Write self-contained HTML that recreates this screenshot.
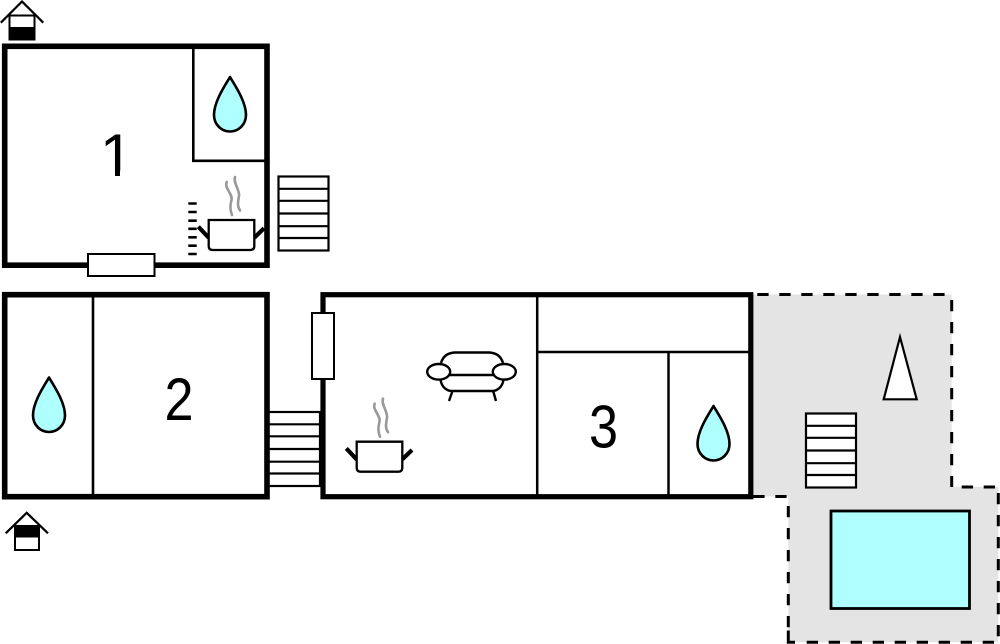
<!DOCTYPE html>
<html>
<head>
<meta charset="utf-8">
<style>
html,body{margin:0;padding:0;background:#fff;width:1000px;height:644px;overflow:hidden}
svg{display:block}
text{font-family:"Liberation Sans",sans-serif;font-size:60px;fill:#000;text-anchor:middle}
</style>
</head>
<body>
<svg width="1000" height="644" viewBox="0 0 1000 644" xmlns="http://www.w3.org/2000/svg">
<defs>
  <path id="drop" d="M0 0 C-4 7 -16 24 -16 38 C-16 48 -8 54.500 0 54.500 C8 54.500 16 48 16 38 C16 24 4 7 0 0 Z" fill="#b0ffff" stroke="#000" stroke-width="2.600" stroke-linejoin="round"/>
  <g id="stairs" fill="#fff" stroke="#000" stroke-width="2.200">
    <rect x="0" y="0" width="50" height="74"/>
    <path d="M0 12.300H50M0 24.300H50M0 37H50M0 49.700H50M0 61.500H50" fill="none"/>
  </g>
  <g id="pot">
    <path d="M226.700 182 C224 188 233 194 231.500 200 C230 206 230 210 232 215 M235 177 C233 183 240 190 239 196 C238 202 237 206 240 210.500" fill="none" stroke="#999" stroke-width="2.600" stroke-linecap="round"/>
    <path d="M198.300 226.700 L208.700 237.700 M254.300 237.700 L264 228.300" fill="none" stroke="#000" stroke-width="4.200"/>
    <path d="M208.700 220 H254.300 V246 Q254.300 250 250.300 250 H212.700 Q208.700 250 208.700 246 Z" fill="#fff" stroke="#000" stroke-width="2.300"/>
  </g>
</defs>

<!-- Terrace -->
<path d="M753 294.500 H951.700 V486.700 H998.300 V642.300 H788.300 V496.500 H753 Z" fill="#e4e4e4"/>
<g fill="none" stroke="#000" stroke-width="3" stroke-dasharray="11.300 10.700">
  <path d="M757.300 294.500 H948"/>
  <path d="M951.700 300 V487"/>
  <path d="M961.700 487 H998"/>
  <path d="M998.300 493 V642"/>
  <path d="M806.700 642.300 H998"/>
  <path d="M788.300 506 V628"/>
  <path d="M753.300 496.500 H787"/>
</g>
<path d="M788.300 630.500 V642.300 H795" fill="none" stroke="#000" stroke-width="3"/>
<rect x="831" y="511" width="138.500" height="97.500" fill="#b0ffff" stroke="#000" stroke-width="2.800"/>
<path d="M900 337 L916.700 399.300 H883.700 Z" fill="#fff" stroke="#000" stroke-width="2.200"/>
<use href="#stairs" x="806" y="413.500"/>

<!-- Stairs between -->
<g fill="#fff" stroke="#000" stroke-width="2.200">
  <rect x="268" y="412" width="52" height="74"/>
  <path d="M268 424.300H320M268 436.300H320M268 449H320M268 461.700H320M268 473.500H320" fill="none"/>
</g>

<!-- Room 1 -->
<rect x="4.700" y="46.300" width="262.300" height="218.900" fill="#fff" stroke="#000" stroke-width="5.600"/>
<path d="M193.300 48 V160.800 H265" fill="none" stroke="#000" stroke-width="2.600"/>
<use href="#drop" x="230" y="77"/>
<text x="116.500" y="176" transform="translate(116.500 0) scale(1 1) translate(-116.500 0)">1</text>
<rect x="100" y="170.800" width="15" height="7" fill="#fff"/>
<rect x="120" y="170.800" width="14" height="7" fill="#fff"/>
<rect x="88" y="254" width="66.500" height="22" fill="#fff" stroke="#000" stroke-width="2"/>
<use href="#stairs" x="278.500" y="176.500"/>
<path d="M188.300 203.500H196.700M188.300 212H196.700M188.300 220.700H196.700M188.300 228.800H196.700M188.300 237.300H196.700M188.300 245.700H196.700M188.300 254H196.700" stroke="#000" stroke-width="2.600" fill="none"/>
<use href="#pot"/>

<!-- Room 2 -->
<rect x="4.700" y="294.700" width="262.300" height="202" fill="#fff" stroke="#000" stroke-width="5.600"/>
<path d="M93 296 V495" fill="none" stroke="#000" stroke-width="2.600"/>
<use href="#drop" x="49" y="377.500"/>
<text transform="translate(179 420) scale(0.87 1)" x="0" y="0">2</text>

<!-- Room 3 -->
<rect x="323" y="294.700" width="427.800" height="202" fill="#fff" stroke="#000" stroke-width="5.200"/>
<path d="M537.200 296 V495 M538 352 H749 M668.500 352 V495" fill="none" stroke="#000" stroke-width="2.500"/>
<use href="#drop" x="713.500" y="406"/>
<text transform="translate(603.500 447.500) scale(0.87 1)" x="0" y="0">3</text>
<rect x="312" y="313" width="22" height="66" fill="#fff" stroke="#000" stroke-width="2"/>

<!-- Sofa -->
<g fill="none" stroke="#000" stroke-width="2.400">
  <path d="M441 363 C443 356 448 352.500 456 352.500 H488 C496 352.500 501 356 503 363"/>
  <path d="M449 375 H493"/>
  <path d="M440.500 379 C441 386 446 391 452 391 H492 C498 391 503 386 503.500 379"/>
  <path d="M452.300 391.500 L449 401 M493.300 391.500 L496 401"/>
  <ellipse cx="438.700" cy="371.800" rx="11.500" ry="7.800" fill="#fff"/>
  <ellipse cx="504.300" cy="371.800" rx="11.500" ry="7.800" fill="#fff"/>
</g>
<use href="#pot" x="148" y="221.700"/>

<!-- House icons -->
<rect x="9.500" y="15.500" width="25" height="24" fill="#fff" stroke="#000" stroke-width="2"/>
<rect x="9.500" y="27" width="25" height="12.500" fill="#000"/>
<path d="M0.800 22.700 L22 1.500 L43.300 22.700" fill="none" stroke="#000" stroke-width="2.200"/>

<rect x="15" y="526" width="24" height="24" fill="#fff" stroke="#000" stroke-width="2"/>
<rect x="15" y="526" width="24" height="11.500" fill="#000"/>
<path d="M5.700 533.300 L26.700 512.800 L48 533.300" fill="none" stroke="#000" stroke-width="2.200"/>
</svg>
</body>
</html>
